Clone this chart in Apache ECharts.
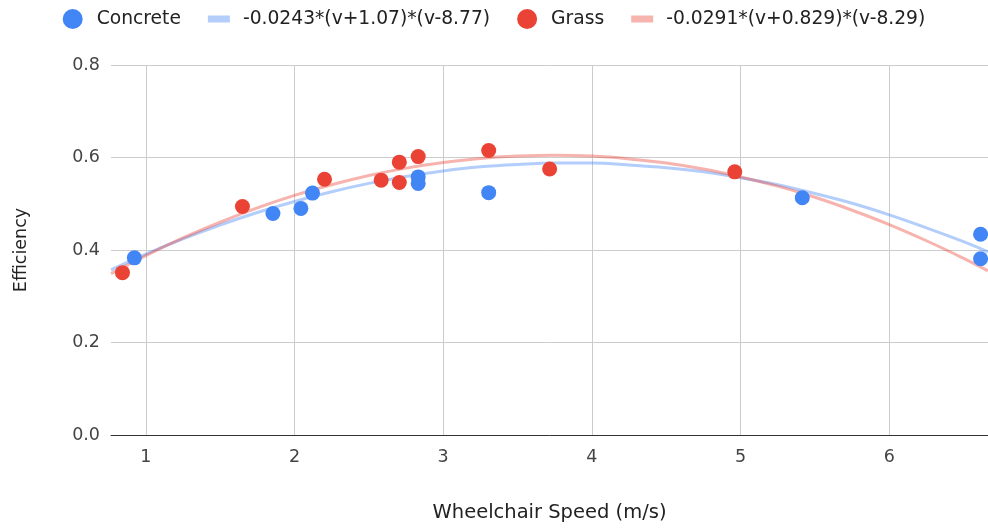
<!DOCTYPE html>
<html>
<head>
<meta charset="utf-8">
<script src="https://cdn.jsdelivr.net/npm/echarts@6/dist/echarts.min.js"></script>
<style>
html,body{margin:0;padding:0;background:#fff;}
#chart{width:988px;height:529px;}
</style>
</head>
<body>
<div id="chart"></div>
<script>
// Measured data
const concreteSpeed = [0.923, 1.855, 2.043, 2.121, 2.832, 2.832, 3.306, 5.415, 6.614, 6.614];
const concreteEff   = [0.383, 0.479, 0.490, 0.523, 0.558, 0.544, 0.524, 0.513, 0.434, 0.381];
const grassSpeed = [0.843, 1.650, 2.202, 2.583, 2.705, 2.705, 2.832, 3.306, 3.716, 4.961];
const grassEff   = [0.351, 0.494, 0.553, 0.551, 0.590, 0.546, 0.602, 0.615, 0.575, 0.569];

// Trendline curves
const trendSpeed    = [0.766, 1.0, 1.25, 1.5, 1.75, 2.0, 2.25, 2.5, 2.75, 3.0, 3.25, 3.5, 3.75, 4.0, 4.25, 4.5, 4.75, 5.0, 5.25, 5.5, 5.75, 6.0, 6.25, 6.5, 6.664];
const concreteTrend = [0.357, 0.391, 0.424, 0.454, 0.481, 0.505, 0.526, 0.544, 0.559, 0.571, 0.580, 0.585, 0.588, 0.588, 0.584, 0.578, 0.569, 0.556, 0.541, 0.522, 0.501, 0.476, 0.448, 0.418, 0.396];
const grassTrend    = [0.349, 0.388, 0.426, 0.460, 0.491, 0.518, 0.541, 0.561, 0.577, 0.589, 0.598, 0.603, 0.605, 0.603, 0.597, 0.588, 0.575, 0.558, 0.538, 0.514, 0.486, 0.455, 0.420, 0.382, 0.355];

const xTicks = [1, 2, 3, 4, 5, 6];

const seriesNames = ['Concrete', '-0.0243*(v+1.07)*(v-8.77)', 'Grass', '-0.0291*(v+0.829)*(v-8.29)'];
const xTitle = 'Wheelchair Speed (m/s)';
const yTitle = 'Efficiency';

const zip = (a, b) => a.map((v, i) => [v, b[i]]);
const FONT = '"DejaVu Sans", Roboto, Arial, sans-serif';
const lineIcon = 'path://M0,0h0.01v0.01h-0.01z M0,6.5h22v7h-22z M0,19.99h0.01v0.01h-0.01z';

const chart = echarts.init(document.getElementById('chart'), null, {renderer: 'canvas'});
chart.setOption({
  animation: false,
  textStyle: {fontFamily: FONT},
  legend: {
    top: 4,
    left: 'center',
    itemGap: 27,
    itemWidth: 22,
    itemHeight: 20,
    textStyle: {fontSize: 18.7, color: '#222', fontFamily: FONT, padding: [0, 0, 0, 8]},
    data: [
      {name: seriesNames[0], icon: 'circle'},
      {name: seriesNames[1], icon: lineIcon, itemStyle: {color: 'rgba(66,133,244,0.4)'}},
      {name: seriesNames[2], icon: 'circle'},
      {name: seriesNames[3], icon: lineIcon, itemStyle: {color: 'rgba(234,67,53,0.4)'}}
    ]
  },
  grid: {left: 111, right: 0, top: 65, bottom: 94, containLabel: false},
  xAxis: {
    type: 'value',
    min: 0.766, max: 6.664,
    name: xTitle,
    nameLocation: 'middle',
    nameGap: 68,
    nameTextStyle: {fontSize: 19.5, color: '#222', fontFamily: FONT},
    axisLine: {show: true, onZero: false, lineStyle: {color: '#333', width: 1}},
    axisTick: {show: false, customValues: xTicks},
    axisLabel: {fontSize: 17.5, color: '#444', margin: 13, customValues: xTicks, fontFamily: FONT,
      formatter: v => String(v)},
    splitLine: {show: true, lineStyle: {color: '#ccc'}}
  },
  yAxis: {
    type: 'value',
    min: 0, max: 0.8, interval: 0.2,
    name: yTitle,
    nameLocation: 'middle',
    nameGap: 81,
    nameRotate: 90,
    nameTextStyle: {fontSize: 17.5, color: '#222', fontFamily: FONT},
    axisLine: {show: false},
    axisTick: {show: false},
    axisLabel: {fontSize: 17.5, color: '#444', margin: 11, fontFamily: FONT, formatter: v => v.toFixed(1)},
    splitLine: {show: true, lineStyle: {color: '#ccc'}}
  },
  series: [
    {
      name: seriesNames[1], type: 'line', data: zip(trendSpeed, concreteTrend),
      smooth: 0.3, showSymbol: false, symbol: 'none', z: 2,
      lineStyle: {color: 'rgba(66,133,244,0.4)', width: 3},
      itemStyle: {color: 'rgba(66,133,244,0.4)'}
    },
    {
      name: seriesNames[3], type: 'line', data: zip(trendSpeed, grassTrend),
      smooth: 0.3, showSymbol: false, symbol: 'none', z: 2,
      lineStyle: {color: 'rgba(234,67,53,0.4)', width: 3},
      itemStyle: {color: 'rgba(234,67,53,0.4)'}
    },
    {
      name: seriesNames[0], type: 'scatter', data: zip(concreteSpeed, concreteEff),
      symbolSize: 15, z: 3, itemStyle: {color: '#4285F4', opacity: 1}
    },
    {
      name: seriesNames[2], type: 'scatter', data: zip(grassSpeed, grassEff),
      symbolSize: 15, z: 3, itemStyle: {color: '#EA4335', opacity: 1}
    }
  ]
});
</script>
</body>
</html>
